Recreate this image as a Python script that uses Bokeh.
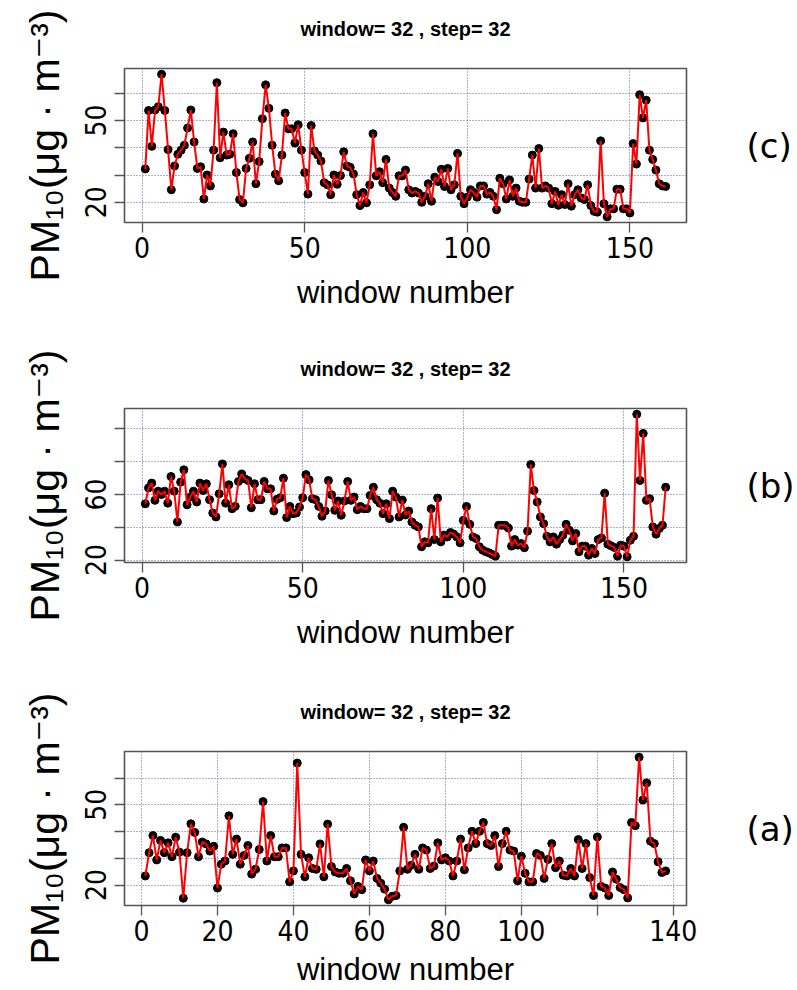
import numpy as np
from bokeh.plotting import figure
from bokeh.models import Range1d, FixedTicker, LinearAxis, Title
from bokeh.layouts import column
from bokeh.embed import file_html
from bokeh.resources import INLINE

# ---------------- data ----------------
c_vals = [32.2, 53.6, 40.5, 53.8, 55.0, 66.9, 53.6, 39.3, 24.6, 33.3,
          37.6, 39.1, 40.9, 47.2, 53.8, 42.1, 32.4, 33.0, 21.2, 30.0,
          26.0, 39.1, 63.8, 36.3, 45.7, 37.3, 37.6, 45.1, 30.9, 21.0,
          19.8, 32.4, 36.1, 42.1, 26.8, 34.9, 50.6, 63.0, 54.4, 40.9,
          30.3, 27.9, 37.3, 52.7, 46.9, 46.9, 41.7, 48.4, 39.1, 30.9,
          23.0, 48.1, 38.8, 37.3, 35.1, 27.2, 26.4, 22.8, 30.0, 26.6,
          29.8, 38.5, 33.3, 32.8, 30.4, 22.8, 18.8, 23.6, 19.8, 26.4,
          45.1, 29.7, 31.2, 27.2, 35.7, 25.2, 23.6, 22.2, 29.7, 29.7,
          31.8, 24.6, 23.4, 24.0, 23.4, 20.0, 22.2, 26.8, 20.4, 29.2,
          27.6, 32.1, 25.8, 32.4, 24.6, 26.4, 37.9, 22.2, 19.5, 21.9,
          24.6, 23.6, 21.9, 26.0, 26.0, 23.0, 23.6, 22.2, 17.3, 28.8,
          26.8, 21.2, 28.2, 22.2, 25.2, 20.4, 20.0, 20.0, 28.5, 37.3,
          25.2, 39.7, 25.2, 26.0, 25.2, 19.5, 24.0, 18.9, 22.8, 19.2,
          26.8, 18.6, 22.8, 24.6, 21.6, 21.0, 26.4, 18.8, 16.7, 16.4,
          42.5, 19.5, 14.7, 17.6, 17.6, 24.8, 24.8, 17.6, 17.6, 16.1,
          41.5, 34.0, 59.4, 50.9, 57.4, 39.1, 35.7, 31.8, 26.8, 26.0,
          25.8]

b_vals = [54.3, 64.0, 66.9, 56.4, 62.0, 60.0, 62.0, 54.7, 70.9, 62.0,
          43.2, 67.5, 75.0, 53.7, 58.4, 62.0, 55.4, 66.9, 62.4, 66.5,
          56.8, 48.7, 46.3, 60.4, 78.6, 54.7, 65.9, 51.3, 52.7, 67.9,
          72.5, 69.5, 68.5, 51.9, 66.5, 56.8, 56.8, 67.9, 63.4, 63.4,
          49.9, 57.0, 58.0, 69.9, 45.9, 52.7, 48.3, 48.7, 52.3, 58.0,
          72.1, 68.9, 57.4, 56.8, 52.7, 46.7, 49.9, 68.5, 59.8, 50.3,
          56.0, 47.3, 56.0, 67.9, 56.4, 58.4, 50.7, 52.7, 51.3, 51.3,
          59.4, 64.4, 56.8, 54.7, 48.3, 54.3, 45.3, 62.0, 58.4, 46.3,
          56.6, 47.5, 49.9, 43.2, 41.2, 40.2, 28.1, 31.1, 30.5, 51.3,
          32.5, 57.8, 31.1, 35.2, 34.1, 36.8, 35.8, 34.1, 30.5, 44.2,
          52.7, 41.8, 34.1, 33.1, 28.1, 26.1, 25.1, 24.4, 23.4, 22.4,
          41.2, 41.2, 41.2, 39.6, 28.5, 32.5, 29.1, 30.1, 27.5, 37.6,
          78.2, 62.4, 55.4, 46.3, 42.2, 34.5, 31.1, 34.1, 29.7, 32.5,
          35.2, 41.8, 38.2, 31.7, 36.2, 25.1, 28.5, 28.5, 23.0, 27.1,
          24.0, 32.5, 33.5, 60.8, 29.7, 28.7, 27.7, 22.4, 29.1, 28.5,
          22.0, 32.1, 34.5, 108.9, 68.5, 97.2, 56.4, 57.4, 40.2, 35.8,
          39.2, 41.2, 64.4]

a_vals = [23.4, 32.1, 38.5, 29.4, 36.7, 32.1, 35.8, 30.6, 37.9, 32.3,
          15.1, 32.1, 42.9, 39.7, 30.6, 36.1, 35.4, 32.7, 34.5, 18.9,
          27.8, 29.0, 45.9, 31.5, 37.2, 27.8, 31.1, 34.8, 24.1, 25.9,
          33.3, 51.2, 29.0, 38.5, 30.6, 30.6, 33.9, 33.9, 21.2, 25.3,
          65.6, 31.5, 23.1, 30.2, 26.2, 25.9, 35.4, 23.1, 42.8, 26.9,
          24.9, 24.4, 24.4, 26.2, 21.6, 16.7, 19.5, 18.3, 29.4, 25.3,
          29.0, 22.5, 20.7, 18.5, 14.5, 15.8, 16.1, 25.3, 41.6, 25.9,
          27.4, 31.5, 25.9, 33.9, 33.1, 26.2, 27.1, 35.8, 29.4, 30.2,
          29.0, 23.4, 29.0, 37.2, 25.7, 33.9, 40.1, 35.5, 40.1, 43.4,
          35.5, 34.8, 38.5, 26.9, 35.5, 40.1, 33.1, 32.7, 21.6, 30.8,
          24.4, 21.2, 21.2, 31.8, 31.1, 22.5, 29.6, 35.5, 26.5, 29.0,
          23.7, 23.4, 26.2, 23.4, 37.0, 26.2, 35.5, 22.8, 16.1, 38.0,
          19.5, 18.9, 16.1, 24.9, 22.2, 19.1, 18.3, 15.2, 43.4, 42.2,
          67.8, 51.8, 58.2, 36.4, 35.5, 28.7, 24.7, 25.3]

panel_tags = ["(c)", "(b)", "(a)"]
title_text = "window= 32 , step= 32"
x_label = "window number"
y_label = "PM\u2081\u2080(\u03bcg \u00b7 m\u207b\u00b3)"

c_xticks = [0, 50, 100, 150]
c_xlabels = [0, 50, 100, 150]
c_yticks = [20, 30, 40, 50, 60]
c_ylabels = [20, 50]

b_xticks = [0, 50, 100, 150]
b_xlabels = [0, 50, 100, 150]
b_yticks = [20, 40, 60, 80, 100]
b_ylabels = [20, 60]

a_xticks = [0, 20, 40, 60, 80, 100, 120, 140]
a_xlabels = [0, 20, 40, 60, 80, 100, 140]
a_yticks = [20, 30, 40, 50, 60]
a_ylabels = [20, 50]

# ---------------- styling ----------------
FIG_W = 797
FRAME_L = 124
FRAME_R = 687
FRAME_H = 154
TICK_FONT = "Liberation Sans Narrow, DejaVu Sans Condensed, sans-serif"
LAB_FONT = "Liberation Sans, DejaVu Sans, sans-serif"
GRID_COL = "#5c5cae"
BOX_COL = "#555555"


def make_panel(vals, xticks, xlabels, yticks, ylabels, tag, height, top, xlab_standoff):
    n = len(vals)
    xs = list(range(1, n + 1))
    px = 0.04 * (n - 1)
    lo, hi = min(vals), max(vals)
    py = 0.04 * (hi - lo)
    p = figure(width=FIG_W, height=height,
               x_range=Range1d(1 - px, n + px),
               y_range=Range1d(lo - py, hi + py),
               output_backend="svg", toolbar_location=None,
               min_border_left=FRAME_L, min_border_right=FIG_W - FRAME_R,
               min_border_top=top,
               min_border_bottom=height - top - FRAME_H)
    p.background_fill_color = "white"
    p.border_fill_color = "white"
    p.outline_line_color = BOX_COL
    p.outline_line_width = 1.6

    # spacer between frame and title, then the title itself (outermost)
    p.add_layout(Title(text=" ", text_font_size="24px", standoff=0), "above")
    p.title.text = title_text
    p.title.align = "center"
    p.title.text_font = LAB_FONT
    p.title.text_font_style = "bold"
    p.title.text_font_size = "20px"
    p.title.text_color = "black"
    p.title.standoff = 0

    # grid
    p.xgrid.ticker = FixedTicker(ticks=xticks)
    p.ygrid.ticker = FixedTicker(ticks=yticks)
    for g in (p.xgrid, p.ygrid):
        g.grid_line_color = GRID_COL
        g.grid_line_dash = "1 2"
        g.grid_line_width = 1

    # axes
    p.xaxis.ticker = FixedTicker(ticks=xticks)
    p.yaxis.ticker = FixedTicker(ticks=yticks)
    p.xaxis.major_label_overrides = {t: (str(t) if t in xlabels else "") for t in xticks}
    p.yaxis.major_label_overrides = {t: (str(t) if t in ylabels else "") for t in yticks}
    p.yaxis.major_label_orientation = "vertical"
    for ax in (p.xaxis[0], p.yaxis[0]):
        ax.axis_line_color = None
        ax.major_tick_in = 0
        ax.major_tick_out = 10
        ax.major_tick_line_color = BOX_COL
        ax.major_tick_line_width = 1.3
        ax.minor_tick_line_color = None
        ax.major_label_text_font = TICK_FONT
        ax.major_label_text_font_size = "28px"
        ax.major_label_text_color = "black"
        ax.axis_label_text_font = LAB_FONT
        ax.axis_label_text_font_style = "normal"
        ax.axis_label_text_color = "black"
    p.xaxis.major_label_standoff = 4
    p.yaxis.major_label_standoff = 8
    p.xaxis.axis_label = x_label
    p.xaxis.axis_label_text_font_size = "31px"
    p.xaxis.axis_label_standoff = xlab_standoff
    p.yaxis.axis_label = y_label
    p.yaxis.axis_label_text_font_size = "41px"
    p.yaxis.axis_label_standoff = 15

    # panel tag as the label of an empty right-hand axis
    tag_axis = LinearAxis(ticker=FixedTicker(ticks=[]), axis_label=tag,
                          axis_line_color=None, major_tick_line_color=None,
                          minor_tick_line_color=None,
                          major_label_text_font_size="0px",
                          axis_label_orientation="horizontal",
                          axis_label_standoff=60,
                          axis_label_text_font="DejaVu Sans",
                          axis_label_text_font_style="normal",
                          axis_label_text_font_size="34px",
                          axis_label_text_color="black")
    p.add_layout(tag_axis, "right")

    # data
    p.scatter(xs, vals, size=8, marker="circle", color="black")
    p.line(xs, vals, line_color="red", line_width=2)
    return p


pc = make_panel(c_vals, c_xticks, c_xlabels, c_yticks, c_ylabels, panel_tags[0], 340, 68, 14)
pb = make_panel(b_vals, b_xticks, b_xlabels, b_yticks, b_ylabels, panel_tags[1], 344, 68, 14)
pa = make_panel(a_vals, a_xticks, a_xlabels, a_yticks, a_ylabels, panel_tags[2], 306, 67, 8)

layout = column(pc, pb, pa, spacing=0)
open("out.html", "w").write(file_html(layout, INLINE))
